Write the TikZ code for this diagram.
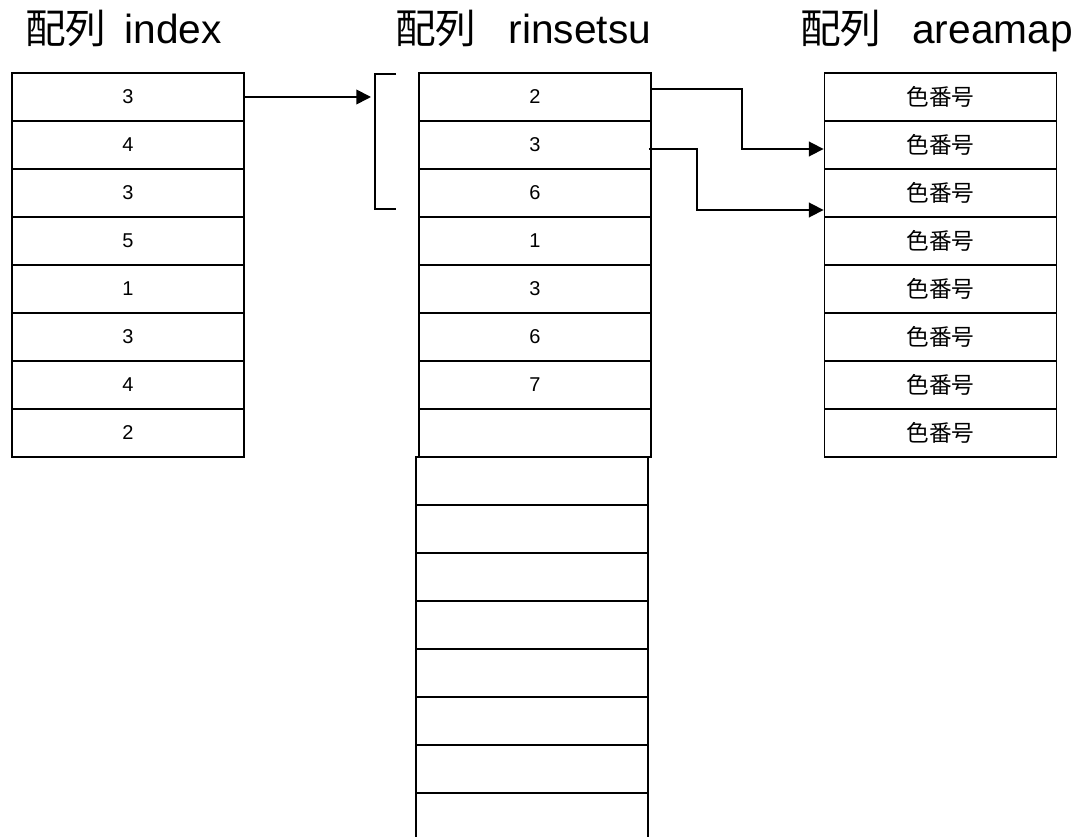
\documentclass[tikz,border=0pt]{standalone}
\usepackage{fontspec}
\setmainfont{Liberation Sans}
\newfontfamily\cjk{Noto Sans CJK JP}
\usetikzlibrary{arrows.meta,calc}
\begin{document}
\begin{tikzpicture}[x=0.75pt,y=-0.75pt,
  cell/.style={draw,line width=1.4pt,minimum width=174pt,minimum height=36pt,inner sep=0pt,font=\fontsize{15}{18}\selectfont},
  jcell/.style={cell,font=\cjk\fontsize{17}{20}\selectfont},
  title/.style={anchor=base west,inner sep=0pt,font=\fontsize{30.5}{36}\selectfont},
  conn/.style={line width=1.3pt},
  arr/.style={conn,-{Triangle[length=11pt,width=11pt]}}]
\useasboundingbox (0,0) rectangle (1085,837);
% titles
\node[title] (t1) at (25,44) {{\cjk 配列}\hspace{13.5pt}index};
\node[title] (t2) at (395,44) {{\cjk 配列}\hspace{24pt}rinsetsu};
\node[title] (t3) at (800,44) {{\cjk 配列}\hspace{23pt}areamap};
% index
\foreach \v [count=\i] in {3,4,3,5,1,3,4,2}
  \node[cell] (idx\i) at (128,{49+48*\i}) {\v};
% rinsetsu upper
\foreach \v [count=\i] in {2,3,6,1,3,6,7,{}}
  \node[cell] (rin\i) at (535,{49+48*\i}) {\v};
% rinsetsu lower
\foreach \i in {9,...,16}
  \node[cell] (rin\i) at (532,{49+48*\i}) {};
% areamap
\foreach \i in {1,...,8}
  \node[jcell] (area\i) at (940.5,{49+48*\i}) {色番号};
% bracket
\coordinate (bt) at (396,74);
\coordinate (bb) at (396,209);
\coordinate (btip) at (371,97);
\draw[conn] (bt) -- ++(-21,0) |- (bb);
\draw[arr] (idx1.east) -- (btip);
% connectors to areamap
\draw[arr] ($(rin1.east)+(0,-8)$) -- ++(90,0) |- ($(area2.west)+(0,4)$);
\draw[arr] ($(rin2.east)+(-3,4)$) -- ++(48,0) |- ($(area3.west)+(0,17)$);
\end{tikzpicture}
\end{document}
